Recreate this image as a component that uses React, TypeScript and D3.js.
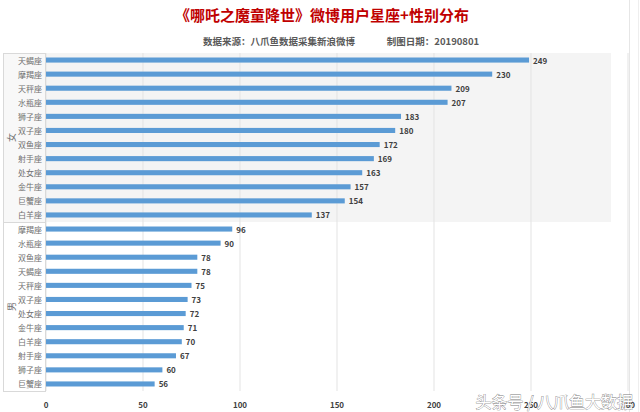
import React from "react";
import * as d3 from "d3";

const femaleSigns = ["天蝎座", "摩羯座", "天秤座", "水瓶座", "狮子座", "双子座", "双鱼座", "射手座", "处女座", "金牛座", "巨蟹座", "白羊座"];
const femaleValues = [249, 230, 209, 207, 183, 180, 172, 169, 163, 157, 154, 137];
const maleSigns = ["摩羯座", "水瓶座", "双鱼座", "天蝎座", "天秤座", "双子座", "处女座", "金牛座", "白羊座", "射手座", "狮子座", "巨蟹座"];
const maleValues = [96, 90, 78, 78, 75, 73, 72, 71, 70, 67, 60, 56];
const xTicks = [0, 50, 100, 150, 200, 250, 300];
const groups = ["女", "男"];

const W = 640, H = 412;
const FONT = "'Noto Sans CJK SC', 'Noto Sans', sans-serif";

export default function App() {
  const rows = [
    ...femaleSigns.map((s, i) => ({ key: "f" + i, sign: s, v: femaleValues[i], g: 0 })),
    ...maleSigns.map((s, i) => ({ key: "m" + i, sign: s, v: maleValues[i], g: 1 })),
  ];
  const x = d3.scaleLinear().domain([0, 300]).range([46, 628]);
  const y = d3.scaleBand<string>().domain(rows.map((r) => r.key)).range([53, 391]).paddingInner(0.64).paddingOuter(0.32);
  const step = y.step();
  const top = 53, mid = 53 + step * 12, bottom = 391;

  return (
    <svg width={W} height={H} style={{ position: "absolute", left: 0, top: 0, background: "#fff" }} fontFamily={FONT}>
      <rect x={0} y={0} width={W} height={H} fill="#fff" />
      <line x1={629.5} x2={629.5} y1={0} y2={H} stroke="#e6e6e6" />
      <line x1={638.5} x2={638.5} y1={0} y2={H} stroke="#eeeeee" />
      <text x={322} y={21} textAnchor="middle" fontSize={15} fontWeight="bold" fill="#c00000">《哪吒之魔童降世》微博用户星座+性别分布</text>
      <text x={279} y={45} textAnchor="middle" fontSize={9.5} fontWeight="bold" fill="#595959">数据来源：八爪鱼数据采集新浪微博</text>
      <text x={433} y={45} textAnchor="middle" fontSize={9.5} fontWeight="bold" fill="#595959">制图日期：20190801</text>

      {/* female group background */}
      <rect x={3} y={top} width={608} height={mid - top} fill="#f4f4f4" />
      <rect x={3} y={top} width={42} height={mid - top} fill="#f8f8f8" />

      {/* grid */}
      {xTicks.map((t) => (
        <line key={t} x1={x(t)} x2={x(t)} y1={top} y2={bottom} stroke="#e3e3e3" strokeWidth={1} />
      ))}

      {/* category axis frame */}
      <line x1={3.5} x2={3.5} y1={top} y2={bottom} stroke="#d9d9d9" />
      {[top, mid, bottom].map((yy, i) => (
        <line key={i} x1={3} x2={46} y1={yy + 0.5} y2={yy + 0.5} stroke="#d9d9d9" />
      ))}
      <line x1={45.5} x2={45.5} y1={top} y2={bottom} stroke="#d9d9d9" />

      {groups.map((g, i) => {
        const cy = i === 0 ? (top + mid) / 2 : (mid + bottom) / 2;
        return (
          <text key={g} x={0} y={0} transform={`translate(11,${cy}) rotate(-90)`} textAnchor="middle" dominantBaseline="central" fontSize={9} fill="#707070">{g}</text>
        );
      })}

      {rows.map((r) => {
        const yy = y(r.key)!;
        const cy = yy + y.bandwidth() / 2;
        return (
          <g key={r.key}>
            <text x={42} y={cy} textAnchor="end" dominantBaseline="central" fontSize={8} fill="#707070">{r.sign}</text>
            <rect x={x(0)} y={yy} width={x(r.v) - x(0)} height={y.bandwidth()} fill="#5b9bd5" />
            <text x={x(r.v) + 4} y={cy} dominantBaseline="central" fontSize={8} fontWeight="bold" fill="#404040">{r.v}</text>
          </g>
        );
      })}

      {xTicks.map((t) => (
        <text key={t} x={x(t)} y={404} textAnchor="middle" dominantBaseline="central" fontSize={8} fontWeight="bold" fill="#404040">{t}</text>
      ))}

      <text x={633} y={401} textAnchor="end" dominantBaseline="central" fontSize={16} fill="#ffffff" stroke="#7a7a7a" strokeWidth={0.7} paintOrder="stroke">头条号 / 八爪鱼大数据</text>
    </svg>
  );
}
